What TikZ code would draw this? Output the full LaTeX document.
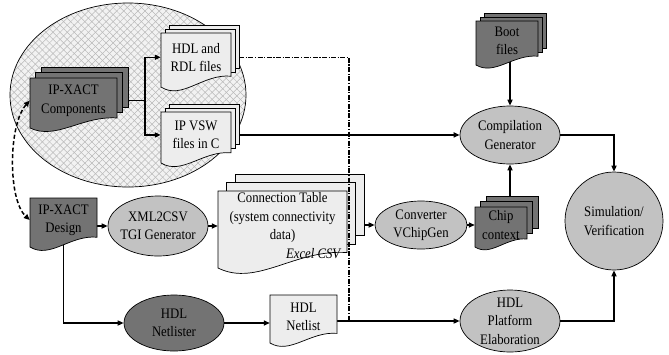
\documentclass[tikz,border=0pt]{standalone}
\usepackage{fontspec}
\setmainfont{Liberation Serif}[FakeStretch=0.88]
\usetikzlibrary{shapes.geometric,arrows.meta,patterns.meta,calc}
\definecolor{dk}{gray}{0.45}
\definecolor{md}{gray}{0.76}
\definecolor{lt}{gray}{0.93}
\definecolor{bgf}{gray}{0.95}
\pgfdeclarelayer{bg}\pgfdeclarelayer{conn}\pgfdeclarelayer{docs}
\pgfsetlayers{bg,conn,docs,main}
% #1 name, #2 x0, #3 top, #4 x1, #5 bottom-left, #6 fill, #7 back pages, #8 offset, #9 text
\newcommand\docnode[9]{%
  \pgfmathsetmacro\docW{#4-#2}%
  \pgfmathsetmacro\docH{#5-#3}%
  \pgfmathsetmacro\docHH{0.9*\docH}%
  \begin{pgfonlayer}{docs}
  \ifnum#7>0
  \foreach \k in {#7,...,1}{%
    \draw[docline,fill=#6] (#2+\k*#8, #3-\k*#8) rectangle (#4+\k*#8, #5-0.2*\docH-\k*#8);
  }\fi
  \draw[docline,fill=#6] (#2,#5) -- (#2,#3) -- (#4,#3) -- (#4,#5-0.2*\docH)
     .. controls (#2+0.6*\docW, #5-0.25*\docH) and (#2+0.3*\docW, #5+0.25*\docH) .. (#2,#5) -- cycle;
  \end{pgfonlayer}
  \node[doctext, minimum width=\docW pt, minimum height=\docHH pt] (#1) at ({(#2+#4)/2}, {#3+0.45*\docH}) {#9};
}
\begin{document}
\begin{tikzpicture}[x=1pt,y=-1pt, font=\fontsize{14.5}{18.5}\selectfont,
  docline/.style={draw=black,line width=0.7pt},
  doctext/.style={inner sep=0pt,align=center},
  proc/.style={ellipse,draw,line width=0.7pt,inner xsep=-10pt,inner ysep=-9pt,align=center},
  conn/.style={line width=1.5pt},
  arr/.style={conn,-{Triangle[length=6pt,width=5pt]}},
  dashed link/.style={line width=1.5pt,dash pattern=on 4pt off 2.5pt,{Triangle[length=6pt,width=5pt]}-{Triangle[length=6pt,width=5pt]}},
  ddline/.style={line width=1.3pt,dash pattern=on 5pt off 1.5pt on 1.2pt off 1.5pt}]
\useasboundingbox (0,0) rectangle (669,354);

% hatched group ellipse
\begin{pgfonlayer}{bg}
\fill[bgf] (128,95) ellipse [x radius=118pt, y radius=92pt];
\fill[pattern color=gray!55, pattern={Lines[angle=45,distance=5pt,line width=0.5pt]}] (128,95) ellipse [x radius=118pt, y radius=92pt];
\fill[pattern color=gray!55, pattern={Lines[angle=-45,distance=5pt,line width=0.5pt]}] (128,95) ellipse [x radius=118pt, y radius=92pt];
\draw[line width=0.7pt] (128,95) ellipse [x radius=118pt, y radius=92pt];
\end{pgfonlayer}

% documents
\docnode{ipc}{30}{78}{117}{128}{dk}{2}{5.5}{IP-XACT\\Components}
\docnode{hdlf}{161}{33}{231}{87}{lt}{2}{4}{HDL and\\RDL files}
\docnode{vsw}{161}{112}{231}{163}{lt}{2}{4}{IP VSW\\files in C}
\docnode{boot}{476}{21}{538}{65}{dk}{2}{4}{Boot\\files}
\docnode{chip}{475}{207}{527}{247}{dk}{2}{5.5}{Chip\\context}
\docnode{ct}{218}{191}{347}{268}{lt}{2}{8.5}{Connection Table\\(system connectivity\\data)\\\makebox[118pt][r]{\textit{Excel CSV}}}
\docnode{ipd}{30}{198}{97}{247}{dk}{0}{0}{IP-XACT\\Design}
\docnode{hnl}{270}{295}{337}{343}{lt}{0}{0}{HDL\\Netlist}

% processes
\node[proc,fill=md,minimum width=100pt,minimum height=60pt] (xml) at (158,226) {XML2CSV\\TGI Generator};
\node[proc,fill=md,minimum width=92pt,minimum height=48pt] (conv) at (421,225) {Converter\\VChipGen};
\node[proc,fill=md,minimum width=100pt,minimum height=58pt] (cg) at (510,135) {Compilation\\Generator};
\node[proc,fill=md,minimum width=98pt,minimum height=98pt] (sim) at (614,221) {Simulation/\\Verification};
\node[proc,fill=dk,minimum width=100pt,minimum height=56pt] (nl) at (174,323) {HDL\\Netlister};
\node[proc,fill=md,minimum width=100pt,minimum height=62pt] (plat) at (510,321) {HDL\\Platform\\Elaboration};

\coordinate (fork) at (145,0);
\coordinate (ddx) at (349,0);

\begin{pgfonlayer}{conn}
\draw[conn] (ipc.east) -- (fork |- ipc.east);
\draw[arr] (fork |- ipc.east) |- (hdlf.west);
\draw[arr] (fork |- ipc.east) |- (vsw.west);
\draw[arr] (vsw.east) -- (vsw.east -| cg.west);
\draw[arr] (boot.south -| cg.north) -- (cg.north);
\draw[arr] (chip.north -| cg.south) -- (cg.south);
\draw[arr] (cg.east) -| (sim.north);
\draw[arr] (ipd.east |- xml.west) -- (xml.west);
\draw[arr] (xml.east) -- (xml.east -| ct.west);
\draw[arr] (ct.east |- conv.west) -- (conv.west);
\draw[arr] (conv.east) -- (conv.east -| chip.west);
\draw[arr] (ipd.south) |- (nl.west);
\draw[arr] (nl.east) -- (nl.east -| hnl.west);
\draw[arr] (hnl.east |- plat.west) -- (plat.west);
\draw[arr] (plat.east) -| (sim.south);
\draw[dashed link] (ipc.west) .. controls (8,125) and (8,200) .. (ipd.west);
\end{pgfonlayer}
\draw[ddline] ([xshift=8pt]hdlf.east) -| (ddx |- plat.west) -- ([xshift=-6pt]plat.west);
\end{tikzpicture}
\end{document}
